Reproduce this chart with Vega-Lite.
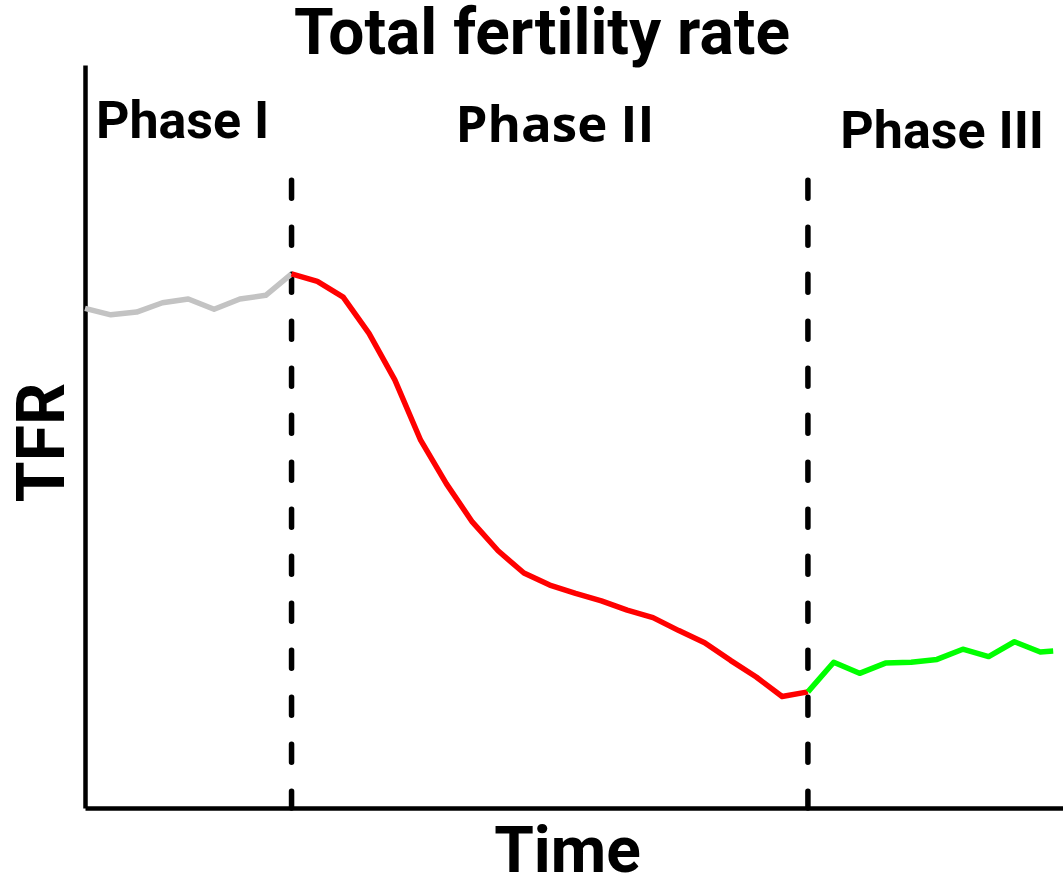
{
  "$schema": "https://vega.github.io/schema/vega-lite/v6.json",
  "width": 978,
  "height": 743,
  "autosize": {"type": "none"},
  "padding": {"left": 85, "top": 65, "right": 0, "bottom": 71},
  "background": "white",
  "title": {"text": "Total fertility rate", "font": "Roboto", "fontSize": 64, "fontWeight": "bold", "color": "black", "anchor": "middle", "frame": "group", "dx": -32, "offset": -2},
  "config": {"view": {"stroke": null}},
  "datasets": {
    "series": [
      {"phase": "I", "t": 0, "tfr": 5.38},
      {"phase": "I", "t": 1, "tfr": 5.31},
      {"phase": "I", "t": 2, "tfr": 5.34},
      {"phase": "I", "t": 3, "tfr": 5.44},
      {"phase": "I", "t": 4, "tfr": 5.48},
      {"phase": "I", "t": 5, "tfr": 5.37},
      {"phase": "I", "t": 6, "tfr": 5.48},
      {"phase": "I", "t": 7, "tfr": 5.52},
      {"phase": "I", "t": 8, "tfr": 5.75},
      {"phase": "II", "t": 8, "tfr": 5.75},
      {"phase": "II", "t": 9, "tfr": 5.67},
      {"phase": "II", "t": 10, "tfr": 5.5},
      {"phase": "II", "t": 11, "tfr": 5.11},
      {"phase": "II", "t": 12, "tfr": 4.61},
      {"phase": "II", "t": 13, "tfr": 3.96},
      {"phase": "II", "t": 14, "tfr": 3.49},
      {"phase": "II", "t": 15, "tfr": 3.08},
      {"phase": "II", "t": 16, "tfr": 2.77},
      {"phase": "II", "t": 17, "tfr": 2.53},
      {"phase": "II", "t": 18, "tfr": 2.4},
      {"phase": "II", "t": 19, "tfr": 2.31},
      {"phase": "II", "t": 20, "tfr": 2.23},
      {"phase": "II", "t": 21, "tfr": 2.13},
      {"phase": "II", "t": 22, "tfr": 2.05},
      {"phase": "II", "t": 23, "tfr": 1.91},
      {"phase": "II", "t": 24, "tfr": 1.78},
      {"phase": "II", "t": 25, "tfr": 1.59},
      {"phase": "II", "t": 26, "tfr": 1.41},
      {"phase": "II", "t": 27, "tfr": 1.2},
      {"phase": "II", "t": 28, "tfr": 1.25},
      {"phase": "III", "t": 28, "tfr": 1.25},
      {"phase": "III", "t": 29, "tfr": 1.57},
      {"phase": "III", "t": 30, "tfr": 1.45},
      {"phase": "III", "t": 31, "tfr": 1.56},
      {"phase": "III", "t": 32, "tfr": 1.57},
      {"phase": "III", "t": 33, "tfr": 1.6},
      {"phase": "III", "t": 34, "tfr": 1.71},
      {"phase": "III", "t": 35, "tfr": 1.63},
      {"phase": "III", "t": 36, "tfr": 1.79},
      {"phase": "III", "t": 37, "tfr": 1.68},
      {"phase": "III", "t": 37.5, "tfr": 1.69}
    ],
    "boundaries": [{"t": 8}, {"t": 28}],
    "labelsRoboto": [
      {"label": "Phase I", "t": 3.78, "tfr": 7.21},
      {"label": "Phase III", "t": 33.2, "tfr": 7.11}
    ],
    "labelsOpen": [
      {"label": "Phase II", "t": 18.2, "tfr": 7.17}
    ]
  },
  "layer": [
    {
      "data": {"name": "boundaries"},
      "mark": {"type": "rule", "stroke": "black", "strokeWidth": 5.5, "strokeDash": [18, 29], "strokeCap": "round"},
      "encoding": {
        "x": {"field": "t", "type": "quantitative"},
        "y": {"datum": 6.76, "type": "quantitative"},
        "y2": {"datum": 0}
      }
    },
    {
      "data": {"name": "series"},
      "mark": {"type": "line", "strokeWidth": 5.5, "strokeJoin": "round"},
      "encoding": {
        "x": {
          "field": "t", "type": "quantitative",
          "scale": {"domain": [0, 37.88], "nice": false, "zero": false},
          "axis": {"title": "Time", "labels": false, "ticks": false, "grid": false, "domainColor": "black", "domainWidth": 4.5, "titleFont": "Roboto", "titleFontSize": 64, "titleFontWeight": "bold", "titleColor": "black", "titlePadding": 12, "titleX": 482}
        },
        "y": {
          "field": "tfr", "type": "quantitative",
          "scale": {"domain": [0, 8], "nice": false, "zero": true},
          "axis": {"title": "TFR", "labels": false, "ticks": false, "grid": false, "domainColor": "black", "domainWidth": 4.5, "titleFont": "Roboto", "titleFontSize": 66, "titleFontWeight": "bold", "titleColor": "black", "titlePadding": 8, "titleY": 377}
        },
        "color": {
          "field": "phase", "type": "nominal",
          "scale": {"domain": ["I", "II", "III"], "range": ["#c3c3c3", "#ff0000", "#00ff00"]},
          "legend": null
        },
        "order": {"field": "t", "type": "quantitative"}
      }
    },
    {
      "data": {"name": "labelsRoboto"},
      "mark": {"type": "text", "font": "Roboto", "fontWeight": "bold", "fontSize": 52, "baseline": "alphabetic", "align": "center", "color": "black"},
      "encoding": {
        "x": {"field": "t", "type": "quantitative"},
        "y": {"field": "tfr", "type": "quantitative"},
        "text": {"field": "label"}
      }
    },
    {
      "data": {"name": "labelsOpen"},
      "mark": {"type": "text", "font": "Open Sans", "fontWeight": "bold", "fontSize": 51, "baseline": "alphabetic", "align": "center", "color": "black"},
      "encoding": {
        "x": {"field": "t", "type": "quantitative"},
        "y": {"field": "tfr", "type": "quantitative"},
        "text": {"field": "label"}
      }
    }
  ]
}
